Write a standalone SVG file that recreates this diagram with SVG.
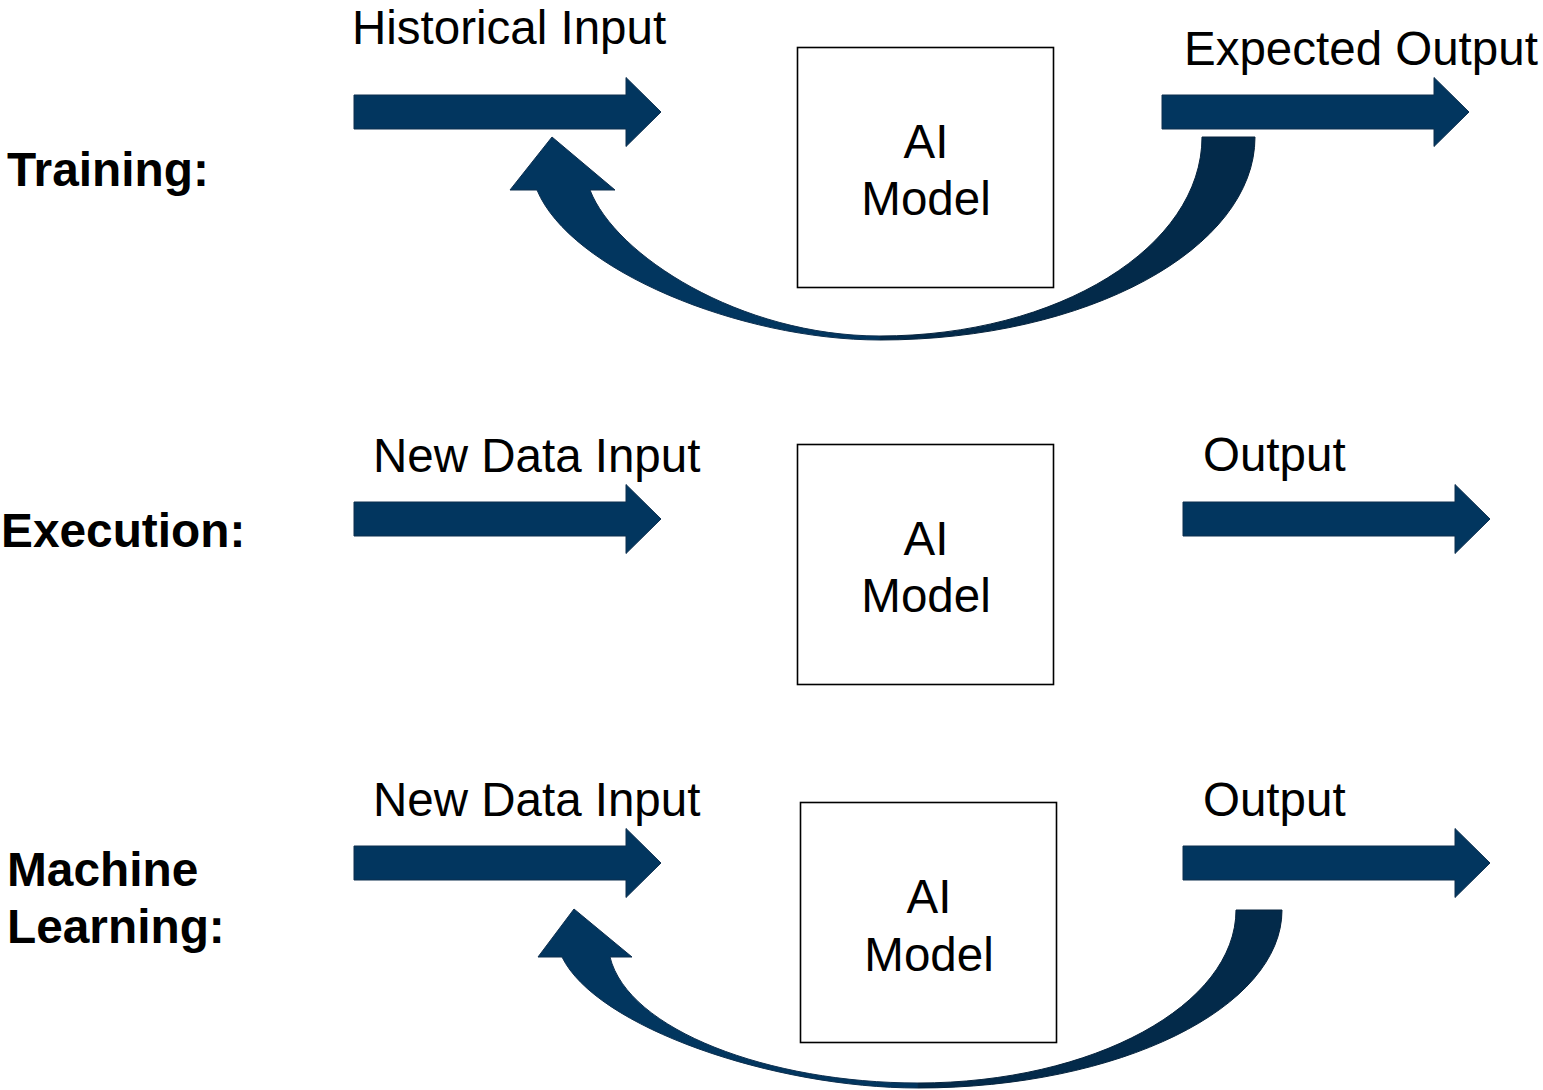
<svg xmlns="http://www.w3.org/2000/svg" xmlns:xlink="http://www.w3.org/1999/xlink" width="1543" height="1090" viewBox="0 0 1543 1090">
<style>
.lbl{font-family:"Liberation Sans",Arial,sans-serif;font-size:47.5px;fill:#000}
.side{font-family:"Liberation Sans",Arial,sans-serif;font-size:47.8px;font-weight:bold;fill:#000}
.box{fill:#fff;stroke:#000;stroke-width:1.6}
.arr{fill:#02365f;stroke:#0d2f4f;stroke-width:1}
.front{fill:#02365f;stroke:#0d2f4f;stroke-width:1}
.back{fill:#032a4a;stroke:#06233d;stroke-width:1}
</style>
<defs>
<path id="rarrow" d="M0,-17 L272,-17 L272,-34.5 L307,0 L272,34.5 L272,17 L0,17 Z"/>
</defs>
<rect width="1543" height="1090" fill="#fff"/>

<g id="side-labels">
<text class="side" x="7" y="186">Training:</text>
<text class="side" x="1" y="547">Execution:</text>
<text class="side" x="7" y="886">Machine</text>
<text class="side" x="7" y="943">Learning:</text>
</g>

<g id="node-training">
<rect class="box" x="797.5" y="47.5" width="256" height="240"/>
<text class="lbl" x="926" y="158" text-anchor="middle">AI</text>
<text class="lbl" x="926" y="215" text-anchor="middle">Model</text>
</g>
<g id="node-execution">
<rect class="box" x="797.5" y="444.5" width="256" height="240"/>
<text class="lbl" x="926" y="555" text-anchor="middle">AI</text>
<text class="lbl" x="926" y="612" text-anchor="middle">Model</text>
</g>
<g id="node-ml">
<rect class="box" x="800.5" y="802.5" width="256" height="240"/>
<text class="lbl" x="929" y="913" text-anchor="middle">AI</text>
<text class="lbl" x="929" y="971" text-anchor="middle">Model</text>
</g>

<g id="connectors">
<use xlink:href="#rarrow" class="arr" x="354" y="112"/>
<use xlink:href="#rarrow" class="arr" x="1162" y="112"/>
<use xlink:href="#rarrow" class="arr" x="354" y="519"/>
<use xlink:href="#rarrow" class="arr" x="1183" y="519"/>
<use xlink:href="#rarrow" class="arr" x="354" y="863"/>
<use xlink:href="#rarrow" class="arr" x="1183" y="863"/>

<!-- training feedback curve -->
<path class="back" d="M1202,137 L1255,137 C1255,249 1087,340 880,340 L880,336 C1058,336 1202,247 1202,137 Z"/>
<path class="front" d="M880,340 C740,340 570,270 537,190 L510,190 L552,137 L615,190 L590,190 C615,255 740,336 880,336 Z"/>

<!-- ML feedback curve -->
<path class="back" d="M1236,910 L1282,910 C1282,1008 1119,1088 918,1088 L918,1083 C1093,1083 1236,1005 1236,910 Z"/>
<path class="front" d="M918,1088 C773,1088 596,1027 562,957 L538,957 L574,909 L632,957 L610,957 C628,1030 769,1083 918,1083 Z"/>
</g>

<g id="arrow-labels">
<text class="lbl" x="352" y="44">Historical Input</text>
<text class="lbl" x="1184" y="65">Expected Output</text>
<text class="lbl" x="373" y="472">New Data Input</text>
<text class="lbl" x="1203" y="471">Output</text>
<text class="lbl" x="373" y="816">New Data Input</text>
<text class="lbl" x="1203" y="816">Output</text>
</g>
</svg>
